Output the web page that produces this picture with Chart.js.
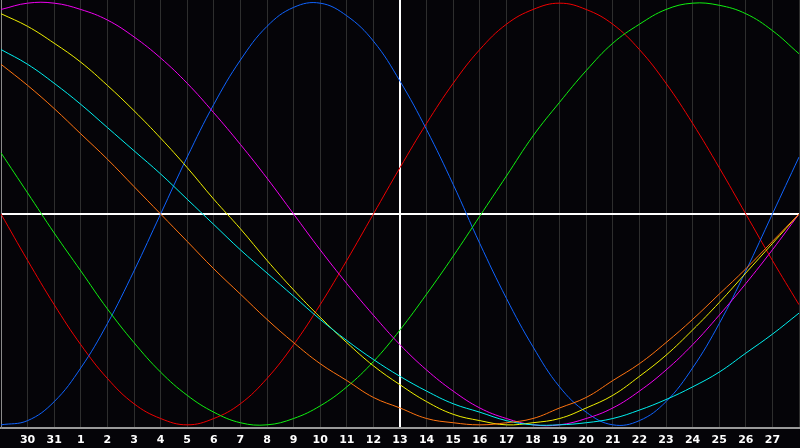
<!DOCTYPE html>
<html>
<head>
<meta charset="utf-8">
<script src="https://cdn.jsdelivr.net/npm/chart.js@4/dist/chart.umd.min.js"></script>
<style>
    html, body { margin: 0; padding: 0; background: #050408; overflow: hidden; }
    #frame { width: 800px; height: 448px; overflow: hidden; position: relative; }
    /* chart.js keeps a few px round the axes, so the canvas is a bit bigger than the frame */
    #wrap { width: 812px; height: 453px; position: absolute; left: -6px; top: 0; }
</style>
</head>
<body>
<div id="frame"><div id="wrap"><canvas id="bioChart"></canvas></div></div>
<script>
// Days shown on the axis (first and last get no label)
const days = ['29', '30', '31', '1', '2', '3', '4', '5', '6', '7', '8', '9', '10', '11', '12',
    '13', '14', '15', '16', '17', '18', '19', '20', '21', '22', '23', '24', '25', '26', '27', '28'];
const todayIndex = 15;

// Cycle values, -1 .. 1
const red = [0, -0.22, -0.43, -0.62, -0.78, -0.9, -0.97, -1, -0.97, -0.9, -0.78, -0.62, -0.43, -0.22, 0,
    0.22, 0.43, 0.62, 0.78, 0.9, 0.97, 1, 0.97, 0.9, 0.78, 0.62, 0.43, 0.22, 0, -0.22, -0.43];
const green = [0.29, 0.1, -0.09, -0.27, -0.45, -0.61, -0.75, -0.86, -0.94, -0.99, -1, -0.97, -0.91, -0.82, -0.7,
    -0.55, -0.38, -0.2, -0.01, 0.18, 0.37, 0.53, 0.68, 0.81, 0.9, 0.97, 1, 0.99, 0.95, 0.87, 0.76];
const blue = [-1, -0.98, -0.89, -0.73, -0.52, -0.27, 0, 0.27, 0.52, 0.73, 0.89, 0.98, 1, 0.94, 0.82,
    0.63, 0.4, 0.14, -0.14, -0.4, -0.63, -0.82, -0.94, -1, -0.98, -0.89, -0.73, -0.52, -0.27, 0, 0.27];
const magenta = [0.97, 1, 1, 0.97, 0.92, 0.84, 0.74, 0.62, 0.48, 0.33, 0.17, 0, -0.17, -0.33, -0.48,
    -0.62, -0.74, -0.84, -0.92, -0.97, -1, -1, -0.97, -0.92, -0.84, -0.74, -0.62, -0.48, -0.33, -0.17, 0];
const yellow = [0.95, 0.89, 0.81, 0.72, 0.61, 0.49, 0.36, 0.22, 0.07, -0.07, -0.22, -0.36, -0.49, -0.61, -0.72,
    -0.81, -0.89, -0.95, -0.98, -1, -0.99, -0.97, -0.92, -0.86, -0.77, -0.67, -0.55, -0.42, -0.28, -0.14, 0];
const cyan = [0.78, 0.71, 0.62, 0.52, 0.41, 0.3, 0.19, 0.07, -0.05, -0.17, -0.28, -0.39, -0.5, -0.6, -0.69,
    -0.77, -0.84, -0.9, -0.94, -0.98, -1, -1, -0.99, -0.97, -0.93, -0.88, -0.82, -0.75, -0.66, -0.57, -0.47];
const orange = [0.71, 0.61, 0.5, 0.38, 0.26, 0.13, 0, -0.13, -0.26, -0.38, -0.5, -0.61, -0.71, -0.79, -0.87,
    -0.92, -0.97, -0.99, -1, -0.99, -0.97, -0.92, -0.87, -0.79, -0.71, -0.61, -0.5, -0.38, -0.26, -0.13, 0];

function line(data, color) {
    return {
        data: data,
        borderColor: color,
        borderWidth: 1,
        pointRadius: 0,
        fill: false,
        tension: 0.4
    };
}

const ctx = document.getElementById('bioChart').getContext('2d');

new Chart(ctx, {
    type: 'line',
    data: {
        labels: days,
        datasets: [
            line(orange, '#ff7410'),
            line(cyan, '#00f0f0'),
            line(yellow, '#f0f000'),
            line(magenta, '#f000f0'),
            line(green, '#10f010'),
            line(blue, '#1064ff'),
            line(red, '#f00000')
        ]
    },
    options: {
        responsive: true,
        maintainAspectRatio: false,
        animation: false,
        layout: { padding: 0 },
        plugins: {
            legend: { display: false },
            tooltip: { enabled: false }
        },
        scales: {
            x: {
                offset: false,
                grid: {
                    drawTicks: false,
                    color: function(c) { return c.index === todayIndex ? '#ffffff' : '#2e2e2e'; },
                    lineWidth: function(c) { return c.index === todayIndex ? 2 : 1; }
                },
                border: { color: '#9a9a9a', width: 2 },
                ticks: {
                    autoSkip: false,
                    maxRotation: 0,
                    padding: 7,
                    color: '#ffffff',
                    font: { family: 'DejaVu Sans', size: 11, weight: 'bold', lineHeight: 1 },
                    callback: function(v, i) {
                        return (i === 0 || i === days.length - 1) ? '' : days[i];
                    }
                }
            },
            y: {
                min: -1.015,
                max: 1.015,
                afterBuildTicks: function(axis) { axis.ticks = [{ value: 0 }]; },
                grid: { drawTicks: false, color: '#ffffff', lineWidth: 2 },
                border: { color: '#8a8a8a', width: 1 },
                ticks: { display: false }
            }
        }
    }
});
</script>
</body>
</html>
